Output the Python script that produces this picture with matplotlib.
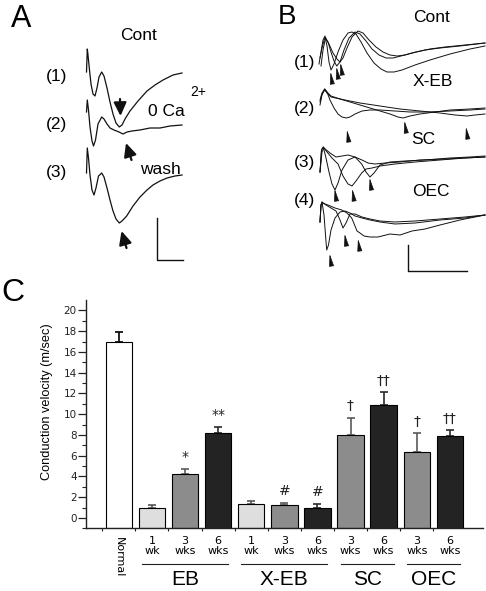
import numpy as np
import matplotlib
matplotlib.use("Agg")
import matplotlib.pyplot as plt

plt.rcParams['font.family'] = ['Liberation Sans', 'DejaVu Sans']

# ---- panel A traces (page-like units) ----
a1_x = [86.5, 87.3, 88, 89.5, 91, 93, 95, 97, 99, 101.7, 104, 107, 110, 113, 116, 119.3,
        122, 125, 130, 138, 147, 155, 163, 173, 182]
a1_y = [72, 49, 55, 70, 84, 94, 96, 88, 77, 72, 76, 88, 102, 114, 123, 127,
        125, 119, 111, 101, 91, 85, 80, 75, 73]
a2_x = [86.5, 87.3, 88.5, 90, 92, 93.5, 95.5, 98, 101.7, 104, 107, 110, 114, 119, 123,
        127, 132, 140, 150, 160, 170, 182]
a2_y = [112, 100, 110, 127, 141, 146, 140, 124, 117, 119, 124, 128, 130, 132, 134,
        132, 131, 130, 128, 128, 126, 125]
a3_x = [86.5, 87.3, 88.5, 90, 92, 94, 96, 98.5, 101.7, 104, 107, 110, 113, 116, 119.3,
        122, 126.7, 133, 140, 147, 153, 160, 167, 175, 182]
a3_y = [173, 148, 158, 175, 190, 195, 188, 176, 173, 177, 188, 200, 211, 219, 223,
        221, 216, 206, 197, 190, 185, 181, 178, 176, 175]
traces_a = [(a1_x, a1_y), (a2_x, a2_y), (a3_x, a3_y)]

# ---- panel B traces ----
b1 = [
    ([319, 321, 323, 325, 327, 329, 331, 334, 338, 343, 348, 352, 356, 361, 367, 374, 381,
      387, 394, 402, 415, 430, 450, 470, 485],
     [64, 52, 40, 36, 46, 62, 70, 64, 52, 40, 33, 32, 34, 42, 53, 63, 69,
      72, 72, 70, 65, 60, 54, 49, 46]),
    ([320, 322, 325, 328, 331, 334, 336.7, 340, 344, 349, 355, 360, 366, 372, 379, 386,
      393, 401, 412, 425, 440, 460, 485],
     [58, 48, 37, 42, 52, 61, 66, 62, 50, 38, 32, 34, 41, 49, 55, 58,
      58, 56, 53, 50, 48, 46, 43]),
    ([321, 323, 325.5, 329, 333, 337, 340, 343, 347, 352, 358, 363, 369, 376, 383, 390,
      397, 405, 416, 430, 445, 465, 485],
     [66, 50, 38, 44, 53, 59, 62, 58, 48, 37, 31, 33, 40, 47, 52, 55,
      56, 55, 52, 49, 47, 45, 43]),
]
b2 = [
    ([320, 322, 324.7, 327, 330, 334, 338, 342, 346.3, 350, 355, 362, 370, 380, 395, 410,
      430, 450, 470, 485],
     [105, 95, 89, 92, 100, 108, 114, 117, 118, 117, 114, 111, 110, 110, 111, 112,
      112, 111, 110, 109]),
    ([320, 322, 324.7, 327, 331, 340, 350, 360, 370, 380, 390, 398, 403, 410, 420, 435,
      450, 470, 485],
     [100, 93, 89, 92, 96, 99, 102, 105, 108, 111, 114, 117, 118, 116, 114, 112,
      110, 109, 108]),
    ([320, 322, 324.7, 327, 331, 345, 360, 380, 400, 420, 440, 455, 467, 475, 485],
     [102, 94, 90, 93, 97, 100, 103, 106, 109, 111, 113, 115, 116, 115, 114]),
]
b3 = [
    ([320, 321.5, 323.3, 326, 329, 332, 335, 338, 342, 348, 355, 362, 368, 375, 385, 400,
      420, 445, 465, 485],
     [172, 150, 147, 158, 172, 184, 190, 183, 170, 160, 157, 160, 163, 164, 163, 162,
      160, 159, 158, 157]),
    ([320, 321.5, 323.3, 327, 332, 338, 343, 348, 352, 356, 361.7, 366, 372, 380, 395,
      415, 440, 465, 485],
     [172, 150, 147, 152, 158, 164, 176, 184, 186, 181, 173, 169, 168, 166, 164,
      162, 160, 158, 157]),
    ([320, 322, 324, 330, 336, 342, 348, 355, 361.7, 366, 370, 374, 380, 390, 405, 425,
      450, 470, 485],
     [172, 152, 148, 153, 157, 156, 155, 157, 164, 172, 177, 173, 165, 162, 161, 160,
      158, 157, 156]),
]
b4 = [
    ([320, 321, 322, 324, 325.5, 326.7, 328.5, 331, 335, 340, 345, 350, 355, 362, 370,
      380, 395, 415, 440, 465, 485],
     [222, 205, 202, 215, 235, 250, 245, 230, 218, 212, 211, 213, 216, 218, 220,
      222, 224, 223, 220, 218, 215]),
    ([320, 321, 322, 326, 331, 336, 340, 343, 346, 350, 355, 362, 370, 380, 395, 415,
      440, 465, 485],
     [222, 205, 202, 205, 208, 211, 220, 228, 223, 214, 214, 217, 219, 221, 222, 221,
      219, 217, 215]),
    ([320, 321, 322, 328, 335, 341.7, 347, 351.7, 355, 357, 360, 364, 370, 378, 390, 400,
      412, 425, 440, 460, 485],
     [222, 205, 203, 205, 208, 210, 213, 218, 226, 231, 233, 236, 237, 237, 234, 235,
      231, 229, 225, 220, 215]),
]
traces_b = b1 + b2 + b3 + b4

# arrowhead tips in panel B
b_tips = [(330.5, 72), (336.5, 67), (340.5, 63),
          (347, 130), (404.5, 121), (466, 127),
          (334.7, 189), (352.3, 189), (369.7, 178),
          (329.7, 254), (344.7, 234), (358, 239)]

# ---- panel C bar data ----
cats = ['Normal', '1\nwk', '3\nwks', '6\nwks', '1\nwk', '3\nwks', '6\nwks',
        '3\nwks', '6\nwks', '3\nwks', '6\nwks']
vals = [17.0, 0.95, 4.2, 8.2, 1.35, 1.2, 1.0, 8.0, 10.9, 6.35, 7.9]
errs = [0.95, 0.25, 0.5, 0.55, 0.25, 0.25, 0.35, 1.65, 1.2, 1.8, 0.55]
shade = ['white', 'light', 'mid', 'dark', 'light', 'mid', 'dark', 'mid', 'dark', 'mid', 'dark']
marks = ['', '', '*', '**', '', '#', '#', '\u2020', '\u2020\u2020', '\u2020', '\u2020\u2020']
groups = ['EB', 'X-EB', 'SC', 'OEC']
group_span = [(1, 3), (4, 6), (7, 8), (9, 10)]

fill = {'white': 'white', 'light': '#dedede', 'mid': '#8c8c8c', 'dark': '#232323'}
ecol = {'white': 'black', 'light': '#555555', 'mid': '#5a5a5a', 'dark': '#2a2a2a'}

fig = plt.figure(figsize=(4.86, 5.91), dpi=100)

# top panels drawn in a page-like frame
top = fig.add_axes([0, 0, 1, 1])
top.set_xlim(0, 486)
top.set_ylim(591, 0)
top.axis('off')

for x, y in traces_a:
    top.plot(x, y, color='#111111', lw=0.9)
for x, y in traces_b:
    top.plot(x, y, color='#111111', lw=0.7)

# big arrows in A
for tail, tip in [((120, 99), (120.5, 116)), ((131.5, 160), (126, 143)), ((126.5, 248), (121.5, 231))]:
    top.annotate('', xy=tip, xytext=tail,
                 arrowprops=dict(arrowstyle='-|>,head_length=0.8,head_width=0.38',
                                 color='#111111', lw=1.6, shrinkA=0, shrinkB=0))
for tx, ty in b_tips:
    top.annotate('', xy=(tx, ty), xytext=(tx + 1.5, ty + 10),
                 arrowprops=dict(arrowstyle='-|>,head_length=0.75,head_width=0.15',
                                 color='#111111', lw=0.5, shrinkA=0, shrinkB=0))

# scale bars
top.plot([157.3, 157.3, 182.7], [218, 260, 260], color='#111111', lw=1.0)
top.plot([408, 408, 467], [245, 271, 271], color='#111111', lw=1.0)

# labels of top panels
top.text(21, 19, 'A', fontsize=22, ha='center', va='center')
top.text(287, 17, 'B', fontsize=20, ha='center', va='center')
top.text(13, 293, 'C', fontsize=23, ha='center', va='center')
top.text(138, 35, 'Cont', fontsize=12.5, ha='center', va='center')
for lab, yy in [('(1)', 77), ('(2)', 125), ('(3)', 173)]:
    top.text(56.7, yy, lab, fontsize=12.5, ha='center', va='center')
top.text(166, 111, '0 Ca', fontsize=12.5, ha='center', va='center')
top.text(198, 92, '2+', fontsize=10, ha='center', va='center')
top.text(160, 170, 'wash', fontsize=12.5, ha='center', va='center')

for lab, xx, yy in [('Cont', 431, 18), ('X-EB', 433, 82), ('SC', 423, 140), ('OEC', 431, 192)]:
    top.text(xx, yy, lab, fontsize=12.5, ha='center', va='center')
for lab, yy in [('(1)', 62), ('(2)', 108), ('(3)', 162), ('(4)', 200)]:
    top.text(304.5, yy, lab, fontsize=12.5, ha='center', va='center')

# ---- bar chart C ----
ax = fig.add_axes([0.1763, 0.1061, 0.8175, 0.3863])
ax.patch.set_alpha(0)
idx = np.arange(len(vals))
base = -1
for i in idx:
    s = shade[i]
    ax.bar(i, vals[i] - base, bottom=base, width=0.8, color=fill[s],
           edgecolor='black', linewidth=0.8, zorder=2)
    ax.errorbar(i, vals[i], yerr=[[0], [errs[i]]], fmt='none', ecolor=ecol[s],
                elinewidth=1.2, capsize=2.8, capthick=1.2, zorder=1)
    if marks[i]:
        ax.text(i, vals[i] + errs[i] + 0.45, marks[i], ha='center', va='bottom',
                fontsize=10, family='DejaVu Sans', color='#222222')

ax.set_xlim(-1, 11)
ax.set_ylim(-1, 21)
ax.spines['top'].set_visible(False)
ax.spines['right'].set_visible(False)
for sp in ('left', 'bottom'):
    ax.spines[sp].set_linewidth(1.0)
    ax.spines[sp].set_color('#222222')

ax.set_yticks(np.arange(0, 21, 2))
ax.set_yticks(np.arange(-1, 21, 1), minor=True)
ax.tick_params(axis='y', which='major', length=5.5, width=0.9, pad=1, labelsize=7.5,
               colors='#222222')
ax.tick_params(axis='y', which='minor', length=3, width=0.8, colors='#222222')
for t in ax.get_yticklabels():
    t.set_family('DejaVu Sans')

ax.set_xticks(idx - 0.5, minor=False)
ax.set_xticks([], minor=True)
ax.set_xticklabels([])
ax.tick_params(axis='x', which='major', length=2.5, width=0.8, colors='#222222')

xt = ax.get_xaxis_transform()
for i in idx:
    if i == 0:
        ax.text(i, -0.04, cats[i], transform=xt, rotation=-90, ha='center', va='top',
                fontsize=8, family='DejaVu Sans')
    else:
        ax.text(i, -0.035, cats[i], transform=xt, ha='center', va='top',
                fontsize=8, family='DejaVu Sans', linespacing=1.0)
for g, (s0, s1) in zip(groups, group_span):
    ax.plot([s0 - 0.3, s1 + 0.3], [-0.156, -0.156], transform=xt, color='#222222',
            lw=0.8, clip_on=False)
    ax.text((s0 + s1) / 2, -0.226, g, transform=xt, ha='center', va='center',
            fontsize=15)

ax.set_ylabel('Conduction velocity (m/sec)', fontsize=9.2)
ax.yaxis.set_label_coords(-0.082, 0.553)

fig.savefig('out.png', dpi=100)
